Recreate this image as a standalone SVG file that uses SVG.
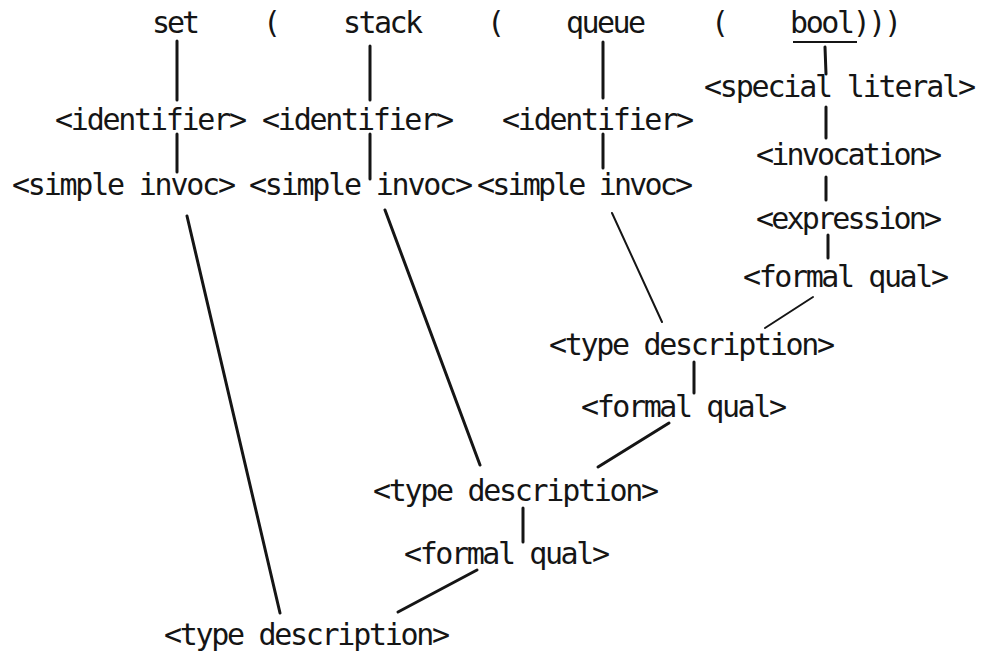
<svg xmlns="http://www.w3.org/2000/svg" width="982" height="653" viewBox="0 0 982 653">
<style>
text{font-family:"DejaVu Sans Mono","Liberation Mono",monospace;font-size:30px;fill:#151515;text-anchor:middle}
.c line{stroke:#151515;stroke-width:3;stroke-linecap:round}
.c line.thin{stroke-width:2}
.u{stroke:#151515;stroke-width:2}
</style>
<rect width="982" height="653" fill="#ffffff"/>
<g class="c" id="connectors">
<line x1="177" y1="41" x2="177" y2="100"/>
<line x1="177" y1="134" x2="177" y2="172"/>
<line x1="370" y1="46" x2="370" y2="100"/>
<line x1="370" y1="134" x2="370" y2="179"/>
<line x1="603" y1="42" x2="603" y2="98"/>
<line x1="603" y1="134" x2="603" y2="168"/>
<line x1="825" y1="47" x2="826" y2="74"/>
<line x1="826" y1="107" x2="826" y2="138"/>
<line x1="826" y1="177" x2="826" y2="200"/>
<line x1="828" y1="235" x2="828" y2="258"/>
<line x1="187" y1="216" x2="280" y2="613"/>
<line x1="385" y1="210" x2="480" y2="465"/>
<line class="thin" x1="612" y1="213" x2="662" y2="322"/>
<line class="thin" x1="813" y1="297" x2="765" y2="328"/>
<line x1="694" y1="362" x2="694" y2="393"/>
<line x1="669" y1="423" x2="598" y2="467"/>
<line x1="523" y1="508" x2="523" y2="542"/>
<line x1="477" y1="570" x2="398" y2="612"/>
</g>
<g id="set"><text x="176" y="33" textLength="48">set</text></g>
<g id="paren1"><text x="272" y="33" textLength="16">(</text></g>
<g id="stack"><text x="383" y="33" textLength="80">stack</text></g>
<g id="paren2"><text x="496" y="33" textLength="16">(</text></g>
<g id="queue"><text x="606" y="33" textLength="80">queue</text></g>
<g id="paren3"><text x="720" y="33" textLength="16">(</text></g>
<g id="bool"><text x="846" y="33" textLength="112">bool)))</text><line class="u" x1="793" y1="42" x2="857" y2="42"/></g>
<g id="identifier1"><text x="151" y="130" textLength="192">&lt;identifier&gt;</text></g>
<g id="identifier2"><text x="358" y="130" textLength="192">&lt;identifier&gt;</text></g>
<g id="identifier3"><text x="598" y="130" textLength="192">&lt;identifier&gt;</text></g>
<g id="special-literal"><text x="840" y="97" textLength="272">&lt;special literal&gt;</text></g>
<g id="simple-invoc1"><text x="124" y="195" textLength="224">&lt;simple invoc&gt;</text></g>
<g id="simple-invoc2"><text x="361" y="195" textLength="224">&lt;simple invoc&gt;</text></g>
<g id="simple-invoc3"><text x="585" y="195" textLength="216">&lt;simple invoc&gt;</text></g>
<g id="invocation"><text x="849" y="165" textLength="186">&lt;invocation&gt;</text></g>
<g id="expression"><text x="849" y="229" textLength="186">&lt;expression&gt;</text></g>
<g id="formal-qual1"><text x="846" y="287" textLength="206">&lt;formal qual&gt;</text></g>
<g id="type-desc1"><text x="692" y="355" textLength="286">&lt;type description&gt;</text></g>
<g id="formal-qual2"><text x="684" y="417" textLength="206">&lt;formal qual&gt;</text></g>
<g id="type-desc2"><text x="516" y="501" textLength="286">&lt;type description&gt;</text></g>
<g id="formal-qual3"><text x="507" y="564" textLength="206">&lt;formal qual&gt;</text></g>
<g id="type-desc3"><text x="307" y="645" textLength="286">&lt;type description&gt;</text></g>
</svg>
